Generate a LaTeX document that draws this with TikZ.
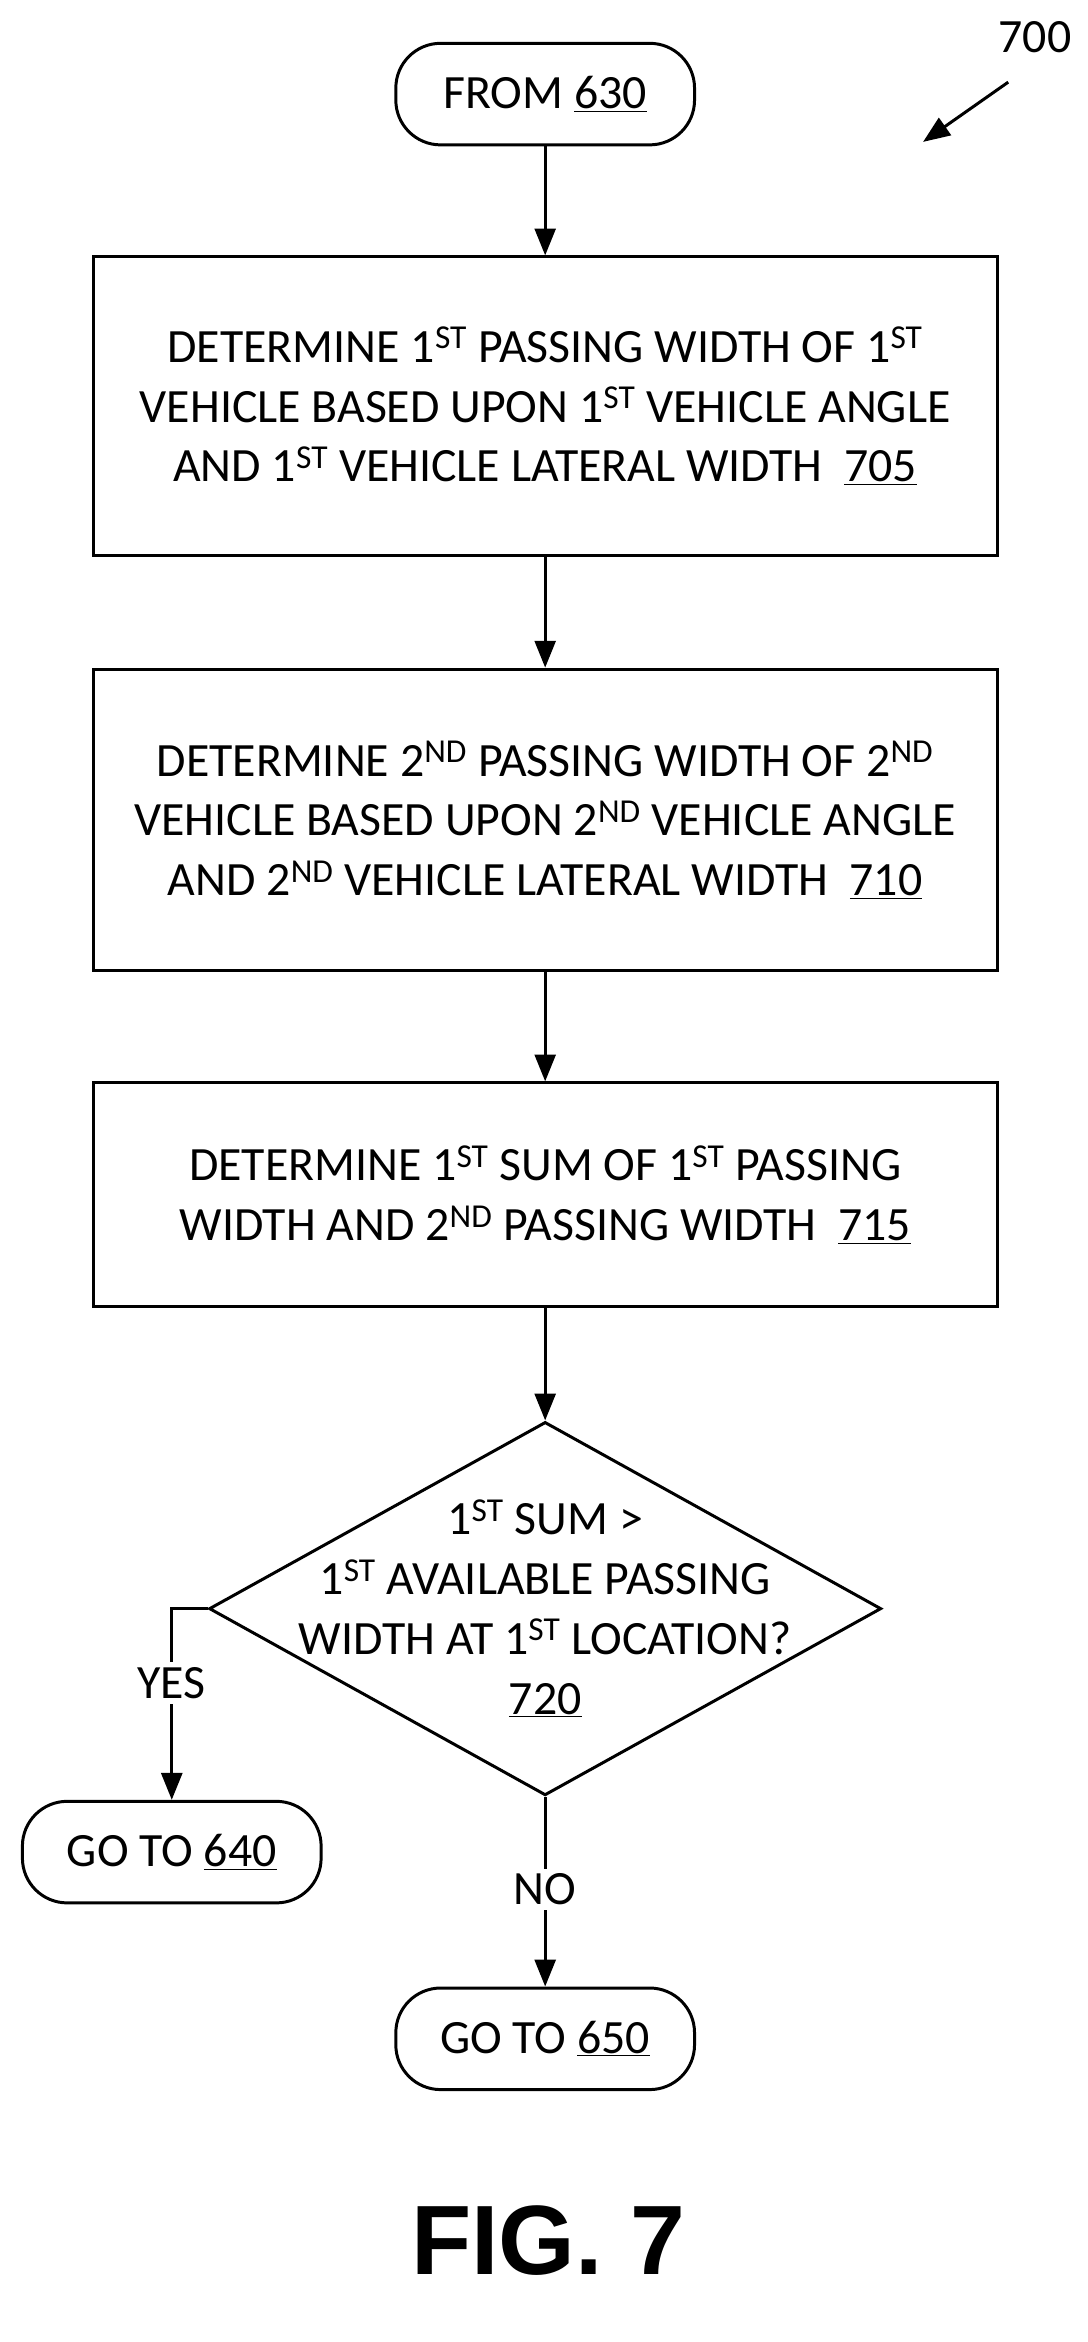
\documentclass[tikz,border=0pt]{standalone}
\usepackage{fontspec}
\setmainfont{Carlito}
\setsansfont{Liberation Sans}
\usetikzlibrary{shapes.geometric,positioning,arrows.meta}
\newcommand{\st}{\textsuperscript{ST}}
\newcommand{\nd}{\textsuperscript{ND}}
\begin{document}
\begin{tikzpicture}[x=1pt,y=-1pt,
  font=\fontsize{32}{40}\selectfont,
  box/.style={draw, line width=2pt, minimum width=605pt, align=center},
  term/.style={draw, line width=2pt, rounded corners=30pt, minimum width=200pt, minimum height=68pt},
  arr/.style={line width=2pt, -{Triangle[length=18pt,width=14pt]}},
  ln/.style={line width=2pt}]
\useasboundingbox (0,0) rectangle (728,1568);

\node[term] (from) at (365,63) {FROM \underline{630}};
\node[box, minimum height=200pt] (b705) at (365,272)
  {DETERMINE 1\st{} PASSING WIDTH OF 1\st\\VEHICLE BASED UPON 1\st{} VEHICLE ANGLE\\AND 1\st{} VEHICLE LATERAL WIDTH\ \ \underline{705}};
\node[box, minimum height=202pt] (b710) at (365,549)
  {DETERMINE 2\nd{} PASSING WIDTH OF 2\nd\\VEHICLE BASED UPON 2\nd{} VEHICLE ANGLE\\AND 2\nd{} VEHICLE LATERAL WIDTH\ \ \underline{710}};
\node[box, minimum height=150pt] (b715) at (365,800)
  {DETERMINE 1\st{} SUM OF 1\st{} PASSING\\WIDTH AND 2\nd{} PASSING WIDTH\ \ \underline{715}};
\node[diamond, draw, line width=2pt, aspect=1.8, minimum width=450pt, minimum height=250pt, inner sep=0pt] (d720) at (365,1077) {};
\node[align=center] (t720) at (365,1077) {1\st{} SUM >\\1\st{} AVAILABLE PASSING\\WIDTH AT 1\st{} LOCATION?\\\underline{720}};
\node[term] (g640) at (115,1240) {GO TO \underline{640}};
\node[term] (g650) at (365,1365) {GO TO \underline{650}};
\node (yes) at (115,1127) {YES};
\node (no) at (365,1265) {NO};
\node[font=\fontsize{66}{70}\selectfont\bfseries\sffamily] (fig) at (367,1500) {FIG. 7};
\node (n700) at (693,25) {700};
\coordinate (a700) at (675,55);
\coordinate (yc) at (115,1077);
\coordinate (t700) at (618,95);

\draw[arr] (from) -- (b705);
\draw[arr] (b705) -- (b710);
\draw[arr] (b710) -- (b715);
\draw[arr] (b715) -- (d720.north);
\draw[ln] (d720.west) -- (yc) -- (yes);
\draw[arr] (yes) -- (g640);
\draw[ln] (d720.south) -- (no);
\draw[arr] (no) -- (g650);
\draw[arr] (a700) -- (t700);
\end{tikzpicture}
\end{document}
